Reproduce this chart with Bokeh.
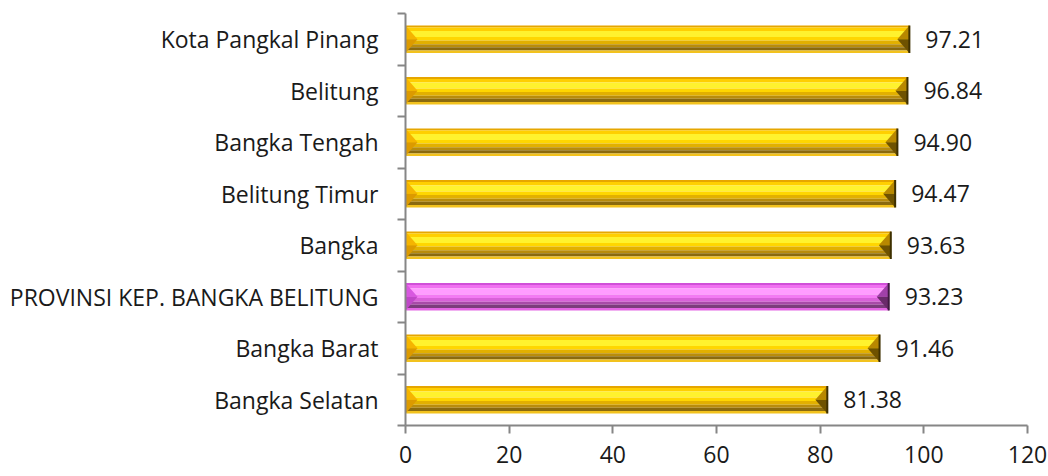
from bokeh.plotting import figure
from bokeh.models import Range1d, FixedTicker, CustomJSTickFormatter
from bokeh.core.properties import value
from bokeh.embed import file_html
from bokeh.resources import INLINE

# Data (bottom to top)
categories = ["Bangka Selatan", "Bangka Barat", "PROVINSI KEP. BANGKA BELITUNG",
              "Bangka", "Belitung Timur", "Bangka Tengah", "Belitung", "Kota Pangkal Pinang"]
values = [81.38, 91.46, 93.23, 93.63, 94.47, 94.90, 96.84, 97.21]
highlight = "PROVINSI KEP. BANGKA BELITUNG"
x_ticks = [0, 20, 40, 60, 80, 100, 120]

FONT = "Open Sans"
W, H = 1048, 476
BL, BR, BT, BB = 405, 21, 13, 51

p = figure(width=W, height=H, output_backend="svg", toolbar_location=None,
           x_range=Range1d(0, 120), y_range=Range1d(0, len(categories)),
           min_border_left=BL, min_border_right=BR, min_border_top=BT, min_border_bottom=BB)
p.outline_line_color = None
p.grid.visible = False
p.background_fill_color = "white"

n = len(categories)
centers = [i + 0.5 for i in range(n)]
is_hi = [c == highlight for c in categories]
bar_h = 0.53

# gradient bands: (f0, f1, yellow, pink) from top to bottom of bar
bands = [
    (0.00, 0.07, "#E6A600", "#D050D8"),
    (0.07, 0.20, "#FFCF00", "#F070F0"),
    (0.20, 0.42, "#FFF22E", "#FF9CFF"),
    (0.42, 0.55, "#FFD600", "#F37AF3"),
    (0.55, 0.68, "#E2B000", "#D862D8"),
    (0.68, 0.79, "#B88C0C", "#A84AA8"),
    (0.79, 0.91, "#8A6A0E", "#7C3C7C"),
    (0.91, 1.00, "#F2C21E", "#E466E4"),
]
for f0, f1, cy, cp in bands:
    ys = [c + (0.5 - (f0 + f1) / 2) * bar_h for c in centers]
    cols = [cp if h else cy for h in is_hi]
    p.hbar(y=ys, height=(f1 - f0) * bar_h, left=0, right=values,
           fill_color=cols, line_color=None)

# bevels
px_per_unit = (W - BL - BR) / 120.0
b = 12 / px_per_unit
lt_x, lt_y, lt_c = [], [], []
lb_x, lb_y, lb_c = [], [], []
rt_x, rt_y, rt_c = [], [], []
rb_x, rb_y, rb_c = [], [], []
ex0, ey0, ey1, ec = [], [], [], []
for c, v, h in zip(centers, values, is_hi):
    top, bot = c + bar_h / 2, c - bar_h / 2
    lt_x.append([0, b, 0]); lt_y.append([top, c, c])
    lb_x.append([0, b, 0]); lb_y.append([c, c, bot])
    rt_x.append([v, v - b, v]); rt_y.append([top, c, c])
    rb_x.append([v, v - b, v]); rb_y.append([c, c, bot])
    lt_c.append("#D858E0" if h else "#F5B400")
    lb_c.append("#C048C8" if h else "#DC9A00")
    rt_c.append("#A040A8" if h else "#B88800")
    rb_c.append("#6A2A6A" if h else "#6E5200")
    ec.append("#401840" if h else "#3E3000")
    ex0.append(v); ey0.append(bot); ey1.append(top)
p.patches(xs=lt_x, ys=lt_y, fill_color=lt_c, line_color=None)
p.patches(xs=lb_x, ys=lb_y, fill_color=lb_c, line_color=None)
p.patches(xs=rt_x, ys=rt_y, fill_color=rt_c, line_color=None)
p.patches(xs=rb_x, ys=rb_y, fill_color=rb_c, line_color=None)
p.segment(x0=ex0, y0=ey0, x1=ex0, y1=ey1, line_color=ec, line_width=2)

# value labels
p.text(x=values, y=centers, text=["%.2f" % v for v in values], x_offset=16,
       text_baseline="middle", text_align="left", text_font=value(FONT),
       text_font_size="23px", text_color="#1a1a1a")

axis_col = "#868686"
# x axis
xa = p.xaxis[0]
xa.ticker = FixedTicker(ticks=x_ticks, minor_ticks=[])
xa.axis_line_color = axis_col
xa.axis_line_width = 2
xa.major_tick_line_color = axis_col
xa.major_tick_line_width = 2
xa.major_tick_in = 0
xa.major_tick_out = 8
xa.major_label_standoff = 12
xa.major_label_text_font = FONT
xa.major_label_text_font_size = "23px"
xa.major_label_text_color = "#1a1a1a"

# y axis
ya = p.yaxis[0]
ya.ticker = FixedTicker(ticks=centers, minor_ticks=list(range(n + 1)))
ya.formatter = CustomJSTickFormatter(args=dict(labels=categories),
                                     code="return labels[Math.floor(tick)];")
ya.axis_line_color = axis_col
ya.axis_line_width = 2
ya.major_tick_line_color = None
ya.major_tick_in = 0
ya.major_tick_out = 0
ya.minor_tick_line_color = axis_col
ya.minor_tick_line_width = 2
ya.minor_tick_in = 0
ya.minor_tick_out = 8
ya.major_label_standoff = 19
ya.major_label_text_font = FONT
ya.major_label_text_font_size = "23px"
ya.major_label_text_color = "#1a1a1a"

open("out.html", "w").write(file_html(p, INLINE))
